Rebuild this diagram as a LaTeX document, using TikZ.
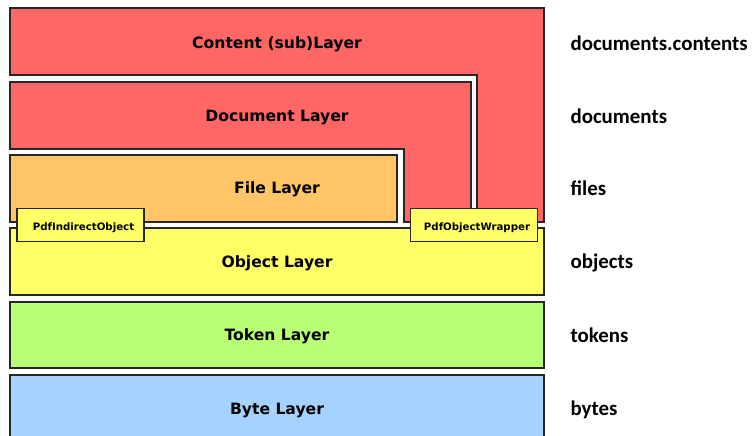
\documentclass[tikz,border=0pt]{standalone}
\usepackage{fontspec}
\setmainfont{DejaVu Sans}
\newfontfamily\lblfont{Carlito}
\definecolor{cred}{HTML}{FF6666}
\definecolor{corange}{HTML}{FFC566}
\definecolor{cyellow}{HTML}{FFFF66}
\definecolor{cgreen}{HTML}{B9FF75}
\definecolor{cblue}{HTML}{A6D2FF}
\begin{document}
\begin{tikzpicture}[x=1pt,y=-1pt,
  layer/.style={draw=black!85,line width=1.2pt},
  title/.style={font=\fontsize{15.6}{17}\selectfont\bfseries,anchor=center},
  side/.style={font=\lblfont\fontsize{20.9}{22}\selectfont\bfseries,anchor=west},
  tag/.style={draw=black!85,line width=1.1pt,fill=cyellow,minimum width=127pt,minimum height=33pt,inner sep=0pt,font=\fontsize{10.2}{12}\selectfont\bfseries,text depth=0pt}]
\useasboundingbox (0,0) rectangle (756,436);
\begin{scope}
\clip (0,0) rectangle (756,436);
% Content (sub)Layer
\draw[layer,fill=cred] (10,8) -- (544,8) -- (544,222) -- (477,222) -- (477,75) -- (10,75) -- cycle;
% Document Layer
\draw[layer,fill=cred] (10,82) -- (471,82) -- (471,222) -- (404,222) -- (404,149) -- (10,149) -- cycle;
% File Layer
\draw[layer,fill=corange] (10,155) rectangle (397,222);
% Object, Token, Byte
\draw[layer,fill=cyellow] (10,228) rectangle (544,295);
\draw[layer,fill=cgreen] (10,302) rectangle (544,368);
\draw[layer,fill=cblue] (10,375) rectangle (544,450);
\end{scope}
\node[title] (tcontent) at (277,44.5) {Content (sub)Layer};
\node[title] (tdoc) at (277,117.5) {Document Layer};
\node[title] (tfile) at (277,189.5) {File Layer};
\node[title] (tobj) at (277,263.5) {Object Layer};
\node[title] (ttok) at (277,336.5) {Token Layer};
\node[title] (tbyte) at (277,410.5) {Byte Layer};
\node[tag] (pio) at (80.5,225) {\hspace{6pt}\raisebox{-3pt}{PdfIndirectObject}};
\node[tag] (pow) at (474,225) {\hspace{6pt}\raisebox{-3pt}{PdfObjectWrapper}};
\node[side] (s1) at (567,43.5) {documents.contents};
\node[side] (s2) at (567,116.5) {documents};
\node[side] (s3) at (567,188.5) {files};
\node[side] (s4) at (567,262.5) {objects};
\node[side] (s5) at (567,335.5) {tokens};
\node[side] (s6) at (567,409.5) {bytes};
\end{tikzpicture}
\end{document}
